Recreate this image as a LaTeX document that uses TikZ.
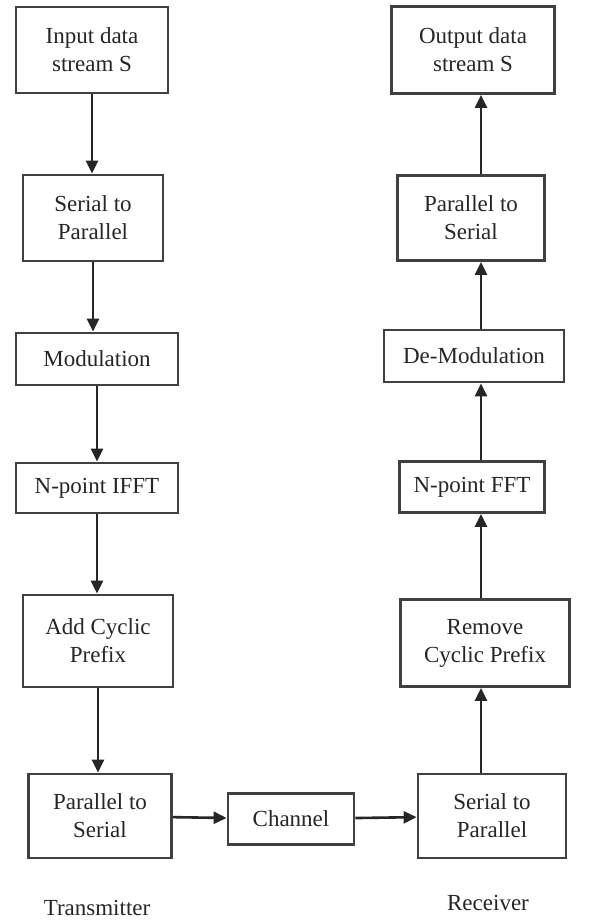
\documentclass[tikz,border=0pt]{standalone}
\usepackage{fontspec}
\setmainfont{Liberation Serif}
\usetikzlibrary{positioning,arrows.meta}

\begin{document}
\begin{tikzpicture}[
	x=1pt, y=-1pt,
	font=\rmfamily\fontsize{23}{28}\selectfont,
	>={Triangle[length=13pt,width=12pt]},
	blk/.style={draw=black!75, line width=2.8pt, align=center,
		inner sep=0pt, text=black!85, fill=white},
	flow/.style={->, line width=2.6pt, black!85},
	lbl/.style={text=black!85},
]
\useasboundingbox[fill=white] (0,0) rectangle (592,923);

% ---- transmitter column ----
\node[blk, minimum width=152pt, minimum height=86pt] (in) at (92,50)
	{Input data\\stream S};
\node[blk, minimum width=140pt, minimum height=86pt] (sp) at (93,218)
	{Serial to\\Parallel};
\node[blk, minimum width=162pt, minimum height=52pt] (mod) at (97,359)
	{Modulation};
\node[blk, minimum width=162pt, minimum height=50pt] (ifft) at (97,488)
	{N-point IFFT};
\node[blk, minimum width=150pt, minimum height=92pt] (acp) at (98,641)
	{Add Cyclic\\Prefix};
\node[blk, minimum width=143pt, minimum height=84pt] (ps) at (100,816)
	{Parallel to\\Serial};

% ---- channel ----
\node[blk, minimum width=126pt, minimum height=51pt] (ch) at (291,819)
	{Channel};

% ---- receiver column ----
\coordinate (raxis) at (481,0);
\node[blk, minimum width=148pt, minimum height=84pt] (rsp) at (492,816)
	{Serial to\\Parallel};
\node[blk, minimum width=169pt, minimum height=87pt] (rcp) at (485,643)
	{Remove\\Cyclic Prefix};
\node[blk, minimum width=145pt, minimum height=51pt] (fft) at (472,487)
	{N-point FFT};
\node[blk, minimum width=180pt, minimum height=52pt] (demod) at (474,356)
	{De-Modulation};
\node[blk, minimum width=147pt, minimum height=85pt] (rps) at (471,218)
	{Parallel to\\Serial};
\node[blk, minimum width=163pt, minimum height=87pt] (out) at (473,50)
	{Output data\\stream S};

% ---- labels ----
\node[lbl] (tx) at (97,908) {Transmitter};
\node[lbl] (rx) at (488,903) {Receiver};

% ---- connectors ----
\draw[flow] (in.south)   -- (in.south |- sp.north);
\draw[flow] (sp.south)   -- (sp.south |- mod.north);
\draw[flow] (mod.south)  -- (mod.south |- ifft.north);
\draw[flow] (ifft.south) -- (ifft.south |- acp.north);
\draw[flow] (acp.south)  -- (acp.south |- ps.north);
\draw[flow] (ps)  -- (ch);
\draw[flow] (ch)  -- (rsp);
\draw[flow] (rsp.north -| raxis)   -- (rcp.south -| raxis);
\draw[flow] (rcp.north -| raxis)   -- (fft.south -| raxis);
\draw[flow] (fft.north -| raxis)   -- (demod.south -| raxis);
\draw[flow] (demod.north -| raxis) -- (rps.south -| raxis);
\draw[flow] (rps.north -| raxis)   -- (out.south -| raxis);

\end{tikzpicture}
\end{document}
